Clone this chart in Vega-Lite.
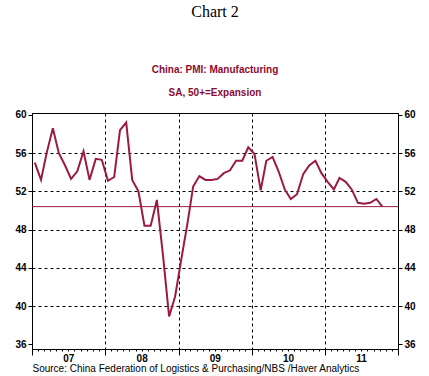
{
  "$schema": "https://vega.github.io/schema/vega-lite/v6.json",
  "width": 366,
  "height": 236,
  "autosize": {"type": "none"},
  "padding": {"left": 32, "top": 113, "right": 31, "bottom": 27},
  "background": "white",
  "config": {
    "view": {"stroke": "black", "strokeWidth": 1},
    "font": "Liberation Sans"
  },
  "title": {
    "text": "Chart 2",
    "font": "Liberation Serif",
    "fontSize": 16,
    "fontWeight": "normal",
    "color": "black",
    "subtitle": ["China: PMI: Manufacturing", "SA, 50+=Expansion"],
    "subtitleFont": "Liberation Sans",
    "subtitleFontSize": 10,
    "subtitleFontWeight": "bold",
    "subtitleColor": "#8b0a30",
    "subtitleLineHeight": 23,
    "subtitlePadding": 45,
    "offset": 12,
    "anchor": "middle"
  },
  "layer": [
    {
      "data": {
        "values": [
          {"date": "2007-01-15", "pmi": 55.0},
          {"date": "2007-02-15", "pmi": 53.2},
          {"date": "2007-03-15", "pmi": 56.0},
          {"date": "2007-04-15", "pmi": 58.6},
          {"date": "2007-05-15", "pmi": 56.0},
          {"date": "2007-06-15", "pmi": 54.7},
          {"date": "2007-07-15", "pmi": 53.3},
          {"date": "2007-08-15", "pmi": 54.1},
          {"date": "2007-09-15", "pmi": 56.2},
          {"date": "2007-10-15", "pmi": 53.2},
          {"date": "2007-11-15", "pmi": 55.4},
          {"date": "2007-12-15", "pmi": 55.3},
          {"date": "2008-01-15", "pmi": 53.1},
          {"date": "2008-02-15", "pmi": 53.5},
          {"date": "2008-03-15", "pmi": 58.4},
          {"date": "2008-04-15", "pmi": 59.2},
          {"date": "2008-05-15", "pmi": 53.2},
          {"date": "2008-06-15", "pmi": 52.0},
          {"date": "2008-07-15", "pmi": 48.4},
          {"date": "2008-08-15", "pmi": 48.4},
          {"date": "2008-09-15", "pmi": 51.1},
          {"date": "2008-10-15", "pmi": 45.4},
          {"date": "2008-11-15", "pmi": 38.9},
          {"date": "2008-12-15", "pmi": 41.0},
          {"date": "2009-01-15", "pmi": 44.9},
          {"date": "2009-02-15", "pmi": 48.7},
          {"date": "2009-03-15", "pmi": 52.5},
          {"date": "2009-04-15", "pmi": 53.6},
          {"date": "2009-05-15", "pmi": 53.2},
          {"date": "2009-06-15", "pmi": 53.2},
          {"date": "2009-07-15", "pmi": 53.3},
          {"date": "2009-08-15", "pmi": 53.9},
          {"date": "2009-09-15", "pmi": 54.2},
          {"date": "2009-10-15", "pmi": 55.2},
          {"date": "2009-11-15", "pmi": 55.2},
          {"date": "2009-12-15", "pmi": 56.6},
          {"date": "2010-01-15", "pmi": 55.9},
          {"date": "2010-02-15", "pmi": 52.1},
          {"date": "2010-03-15", "pmi": 55.2},
          {"date": "2010-04-15", "pmi": 55.6},
          {"date": "2010-05-15", "pmi": 54.1},
          {"date": "2010-06-15", "pmi": 52.2},
          {"date": "2010-07-15", "pmi": 51.2},
          {"date": "2010-08-15", "pmi": 51.7},
          {"date": "2010-09-15", "pmi": 53.8},
          {"date": "2010-10-15", "pmi": 54.7},
          {"date": "2010-11-15", "pmi": 55.2},
          {"date": "2010-12-15", "pmi": 53.9},
          {"date": "2011-01-15", "pmi": 53.0},
          {"date": "2011-02-15", "pmi": 52.2},
          {"date": "2011-03-15", "pmi": 53.4},
          {"date": "2011-04-15", "pmi": 53.0},
          {"date": "2011-05-15", "pmi": 52.2},
          {"date": "2011-06-15", "pmi": 50.8},
          {"date": "2011-07-15", "pmi": 50.7},
          {"date": "2011-08-15", "pmi": 50.8},
          {"date": "2011-09-15", "pmi": 51.2},
          {"date": "2011-10-15", "pmi": 50.4}
        ]
      },
      "mark": {"type": "line", "color": "#9b1b40", "strokeWidth": 2},
      "encoding": {
        "x": {
          "field": "date",
          "type": "temporal",
          "scale": {"type": "utc", "domain": ["2007-01-01", "2012-01-01"], "nice": false},
          "axis": {
            "tickCount": {"interval": "month", "step": 1},
            "labelExpr": "utcmonth(datum.value) == 6 ? utcFormat(datum.value, '%y') : ''",
            "labelFontWeight": "bold",
            "labelFontSize": 10,
            "labelColor": "black",
            "labelPadding": 2,
            "labelOverlap": false,
            "labelFlush": false,
            "domainColor": "black",
            "tickColor": "black",
            "tickSize": {"condition": {"test": "utcmonth(datum.value) == 0", "value": 6}, "value": 2},
            "grid": true,
            "gridColor": "black",
            "gridDash": [3, 3],
            "gridOpacity": {"condition": {"test": "utcmonth(datum.value) == 0 && utcyear(datum.value) > 2007 && utcyear(datum.value) < 2012", "value": 1}, "value": 0},
            "title": "Source:  China Federation of Logistics & Purchasing/NBS /Haver Analytics",
            "titleAnchor": "start",
            "titleFont": "Liberation Sans",
            "titleFontSize": 10,
            "titleFontWeight": "normal",
            "titleColor": "black",
            "titleBaseline": "alphabetic",
            "titleY": 22
          }
        },
        "y": {
          "field": "pmi",
          "type": "quantitative",
          "scale": {"domain": [35.5, 60.2], "nice": false, "zero": false},
          "axis": {
            "orient": "left",
            "values": [36, 40, 44, 48, 52, 56, 60],
            "labelFontWeight": "bold",
            "labelFontSize": 10,
            "labelColor": "black",
            "labelPadding": 2,
            "tickSize": 4,
            "tickColor": "black",
            "domainColor": "black",
            "grid": true,
            "gridColor": "black",
            "gridDash": [3, 3],
            "gridOpacity": {"condition": {"test": "datum.value == 36 || datum.value == 60", "value": 0}, "value": 1},
            "title": null
          }
        }
      }
    },
    {
      "data": {"values": [{"latest": 50.4}]},
      "mark": {"type": "rule", "color": "#9b1b40", "strokeWidth": 1},
      "encoding": {
        "y": {
          "field": "latest",
          "type": "quantitative",
          "scale": {"domain": [35.5, 60.2], "nice": false, "zero": false},
          "axis": {
            "orient": "right",
            "values": [36, 40, 44, 48, 52, 56, 60],
            "labelFontWeight": "bold",
            "labelFontSize": 10,
            "labelColor": "black",
            "labelPadding": 2,
            "tickSize": 4,
            "tickColor": "black",
            "domainColor": "black",
            "grid": false,
            "title": null
          }
        }
      }
    }
  ],
  "resolve": {"axis": {"y": "independent"}}
}
